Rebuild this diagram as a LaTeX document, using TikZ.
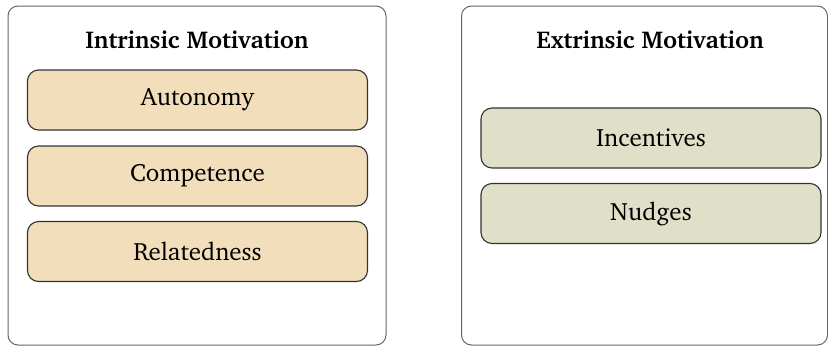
\documentclass[tikz,border=0pt]{standalone}
\usepackage[T1]{fontenc}
\usepackage{charter}
\begin{document}
\begin{tikzpicture}[x=1pt,y=-1pt,
  outerbox/.style={draw=black!60,line width=1pt,rounded corners=10pt},
  itembox/.style={draw=black!80,line width=1.1pt,rounded corners=11pt,minimum width=340pt,minimum height=60pt,font=\fontsize{25}{30}\selectfont},
  intr/.style={itembox,fill={rgb,255:red,242;green,222;blue,186}},
  extr/.style={itembox,fill={rgb,255:red,224;green,224;blue,200}},
  titletext/.style={font=\fontsize{24.3}{29}\selectfont\bfseries}]
\useasboundingbox (0,0) rectangle (828,346);
\node[outerbox,minimum width=378pt,minimum height=339pt] (L) at (197,175.5) {};
\node[outerbox,minimum width=366pt,minimum height=339pt] (R) at (644.5,175.5) {};
\node[titletext] (lt) at (197,40) {Intrinsic Motivation};
\node[titletext] (rt) at (650,40) {Extrinsic Motivation};
\node[intr] (a) at (197.5,100) {Autonomy};
\node[intr] (c) at (197.5,176) {Competence};
\node[intr] (r) at (197.5,251.5) {Relatedness};
\node[extr] (i) at (651,138) {Incentives};
\node[extr] (n) at (651,213.5) {Nudges};
\end{tikzpicture}
\end{document}
